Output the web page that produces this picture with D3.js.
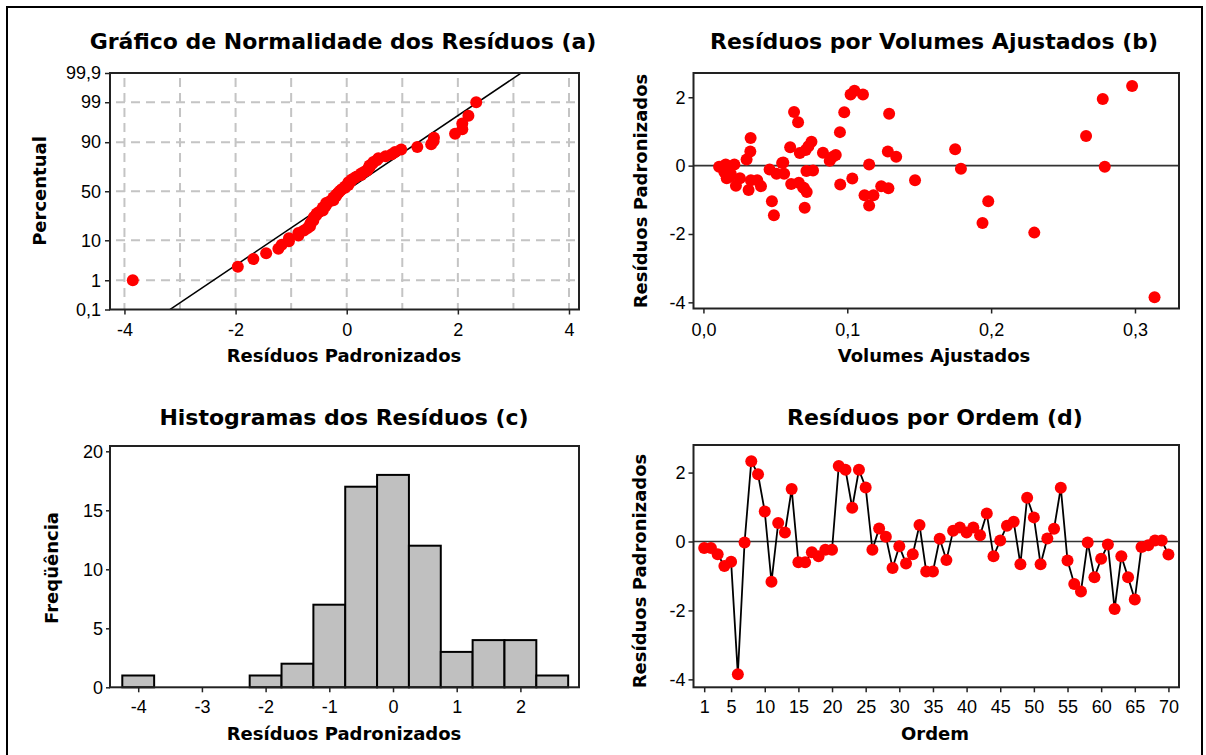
<!DOCTYPE html>
<html>
<head>
<meta charset="utf-8">
<script src="https://cdn.jsdelivr.net/npm/d3@7"></script>
<style>
  body { margin: 0; background: #fff; }
</style>
</head>
<body>
<svg id="chart" width="1206" height="755"></svg>
<script>
// standardized residuals, in observation order (panel d)
var residuals = [-0.19, -0.19, -0.37, -0.71, -0.59, -3.85, -0.03, 2.33, 1.95, 0.87,
  -1.17, 0.54, 0.26, 1.52, -0.60, -0.60, -0.31, -0.43, -0.24, -0.24,
  2.19, 2.08, 0.98, 2.08, 1.57, -0.24, 0.38, 0.14, -0.77, -0.14,
  -0.64, -0.37, 0.48, -0.87, -0.87, 0.08, -0.54, 0.31, 0.41, 0.26,
  0.41, 0.18, 0.81, -0.43, 0.03, 0.46, 0.57, -0.66, 1.27, 0.70,
  -0.66, 0.09, 0.37, 1.56, -0.55, -1.23, -1.45, -0.03, -1.04, -0.50,
  -0.09, -1.96, -0.43, -1.04, -1.68, -0.16, -0.11, 0.03, 0.03, -0.38];

// fitted volumes for the same observations (panel b)
var fitted = [0.0173, 0.0145, 0.0162, 0.0314, 0.0226, 0.3136, 0.0109, 0.298, 0.2776, 0.266,
  0.1152, 0.0603, 0.134, 0.1291, 0.040, 0.1236, 0.0185, 0.033, 0.0508, 0.0561,
  0.105, 0.1023, 0.0949, 0.1109, 0.063, 0.019, 0.0831, 0.0878, 0.0718, 0.0762,
  0.0693, 0.0254, 0.175, 0.112, 0.1182, 0.0547, 0.061, 0.092, 0.0326, 0.090,
  0.1282, 0.030, 0.0328, 0.1471, 0.1152, 0.0711, 0.073, 0.1286, 0.0658, 0.0751,
  0.0700, 0.0555, 0.067, 0.0979, 0.0951, 0.0704, 0.049, 0.279, 0.0476, 0.0663,
  0.179, 0.230, 0.0374, 0.198, 0.194, 0.0716, 0.046, 0.0155, 0.0215, 0.1035];

// histogram (panel c)
var histEdges = [-4.25, -3.75, -3.25, -2.75, -2.25, -1.75, -1.25, -0.75, -0.25, 0.25, 0.75, 1.25, 1.75, 2.25, 2.75];
var histCounts = [1, 0, 0, 0, 1, 2, 7, 17, 18, 12, 3, 4, 4, 1];

// tick labels
var percTicks = [0.1, 1, 10, 50, 90, 99, 99.9];
var percLabels = ["0,1", "1", "10", "50", "90", "99", "99,9"];
var residTicksA = [-4, -2, 0, 2, 4];
var residTicksC = [-4, -3, -2, -1, 0, 1, 2];
var freqTicks = [0, 5, 10, 15, 20];
var volTicks = [0, 0.1, 0.2, 0.3];
var stdTicks = [-4, -2, 0, 2];
var orderTicks = [1, 5, 10, 15, 20, 25, 30, 35, 40, 45, 50, 55, 60, 65, 70];

var titleFont = "DejaVu Sans, Verdana, sans-serif";
var tickFont = "Liberation Sans, Arial, sans-serif";

// inverse standard normal cdf (Acklam)
function probit(p) {
  var a = [-3.969683028665376e+01, 2.209460984245205e+02, -2.759285104469687e+02, 1.383577518672690e+02, -3.066479806614716e+01, 2.506628277459239e+00];
  var b = [-5.447609879822406e+01, 1.615858368580409e+02, -1.556989798598866e+02, 6.680131188771972e+01, -1.328068155288572e+01];
  var c = [-7.784894002430293e-03, -3.223964580411365e-01, -2.400758277161838e+00, -2.549732539343734e+00, 4.374664141464968e+00, 2.938163982698783e+00];
  var d = [7.784695709041462e-03, 3.224671290700398e-01, 2.445134137142996e+00, 3.754408661907416e+00];
  var pl = 0.02425, q, r;
  if (p < pl) {
    q = Math.sqrt(-2 * Math.log(p));
    return (((((c[0]*q+c[1])*q+c[2])*q+c[3])*q+c[4])*q+c[5]) / ((((d[0]*q+d[1])*q+d[2])*q+d[3])*q+1);
  }
  if (p > 1 - pl) {
    q = Math.sqrt(-2 * Math.log(1 - p));
    return -(((((c[0]*q+c[1])*q+c[2])*q+c[3])*q+c[4])*q+c[5]) / ((((d[0]*q+d[1])*q+d[2])*q+d[3])*q+1);
  }
  q = p - 0.5; r = q * q;
  return (((((a[0]*r+a[1])*r+a[2])*r+a[3])*r+a[4])*r+a[5])*q / (((((b[0]*r+b[1])*r+b[2])*r+b[3])*r+b[4])*r+1);
}

var svg = d3.select("#chart");

// outer border
svg.append("rect")
  .attr("x", 7).attr("y", 7)
  .attr("width", 1195).attr("height", 780)
  .attr("fill", "none").attr("stroke", "#000").attr("stroke-width", 2);

function styleAxis(g) {
  g.select(".domain").remove();
  g.selectAll(".tick line").attr("stroke", "#222").attr("stroke-width", 1.5);
  g.selectAll(".tick text")
    .attr("font-family", tickFont)
    .attr("font-size", 18)
    .attr("fill", "#000");
}

function comma(d) { return d.toFixed(1).replace(".", ","); }
function plain(d) { return String(d); }

function title(x, y, txt) {
  svg.append("text").attr("x", x).attr("y", y)
    .attr("text-anchor", "middle")
    .attr("font-family", titleFont).attr("font-weight", "bold").attr("font-size", 22)
    .text(txt);
}
function xlabel(x, y, txt) {
  svg.append("text").attr("x", x).attr("y", y)
    .attr("text-anchor", "middle")
    .attr("font-family", titleFont).attr("font-weight", "bold").attr("font-size", 18)
    .text(txt);
}
function ylabel(x, y, txt) {
  svg.append("text")
    .attr("transform", "translate(" + x + "," + y + ") rotate(-90)")
    .attr("text-anchor", "middle")
    .attr("font-family", titleFont).attr("font-weight", "bold").attr("font-size", 18)
    .text(txt);
}
function frame(g, w, h) {
  g.append("rect").attr("width", w).attr("height", h)
    .attr("fill", "none").attr("stroke", "#222").attr("stroke-width", 2);
}

/* ---------- (a) normal probability plot ---------- */
var A = {x: 110, y: 73, w: 469, h: 236.5};
var gA = svg.append("g").attr("transform", "translate(" + A.x + "," + A.y + ")");
var xA = d3.scaleLinear().domain([-4.26, 4.18]).range([0, A.w]);
var yA = d3.scaleLinear().domain([probit(0.001), probit(0.999)]).range([A.h, 0]);

gA.append("clipPath").attr("id", "clipA")
  .append("rect").attr("width", A.w).attr("height", A.h);

// dashed grid
gA.selectAll(".vgrid")
  .data(d3.range(-4, 5))
  .enter().append("line")
  .attr("x1", function(d) { return xA(d); }).attr("x2", function(d) { return xA(d); })
  .attr("y1", 5).attr("y2", A.h)
  .attr("stroke", "#c4c4c4").attr("stroke-width", 2).attr("stroke-dasharray", "9,6");
gA.selectAll(".hgrid")
  .data(percTicks.slice(1, -1))
  .enter().append("line")
  .attr("x1", 6).attr("x2", A.w)
  .attr("y1", function(d) { return yA(probit(d / 100)); })
  .attr("y2", function(d) { return yA(probit(d / 100)); })
  .attr("stroke", "#c4c4c4").attr("stroke-width", 2).attr("stroke-dasharray", "9,6");

// fitted normal line
var mu = d3.mean(residuals), sd = d3.deviation(residuals);
var zEnds = [probit(0.0001), probit(0.9999)];
gA.append("line")
  .attr("clip-path", "url(#clipA)")
  .attr("x1", xA(mu + sd * zEnds[0])).attr("y1", yA(zEnds[0]))
  .attr("x2", xA(mu + sd * zEnds[1])).attr("y2", yA(zEnds[1]))
  .attr("stroke", "#000").attr("stroke-width", 1.5);

var sorted = residuals.slice().sort(d3.ascending);
var n = sorted.length;
gA.selectAll(".pt")
  .data(sorted)
  .enter().append("circle")
  .attr("cx", function(d) { return xA(d); })
  .attr("cy", function(d, i) { return yA(probit((i + 1 - 0.3) / (n + 0.4))); })
  .attr("r", 6)
  .attr("fill", "#ff0000");

gA.append("g").call(d3.axisLeft(yA)
    .tickValues(percTicks.map(function(p) { return probit(p / 100); }))
    .tickFormat(function(d, i) { return percLabels[i]; })
    .tickSize(5).tickPadding(4))
  .call(styleAxis);
gA.append("g").attr("transform", "translate(0," + A.h + ")")
  .call(d3.axisBottom(xA).tickValues(residTicksA).tickFormat(plain).tickSize(5).tickPadding(9))
  .call(styleAxis);
frame(gA, A.w, A.h);

title(343, 49, "Gráfico de Normalidade dos Resíduos (a)");
xlabel(344, 362, "Resíduos Padronizados");
ylabel(46, 191, "Percentual");

/* ---------- (b) residuals vs fitted ---------- */
var B = {x: 693.5, y: 73, w: 485.5, h: 235.5};
var gB = svg.append("g").attr("transform", "translate(" + B.x + "," + B.y + ")");
var xB = d3.scaleLinear().domain([-0.0069, 0.3306]).range([0, B.w]);
var yB = d3.scaleLinear().domain([-4.18, 2.71]).range([B.h, 0]);

gB.append("line")
  .attr("x1", 0).attr("x2", B.w).attr("y1", yB(0)).attr("y2", yB(0))
  .attr("stroke", "#333").attr("stroke-width", 1.6);

gB.selectAll(".pt")
  .data(residuals)
  .enter().append("circle")
  .attr("cx", function(d, i) { return xB(fitted[i]); })
  .attr("cy", function(d) { return yB(d); })
  .attr("r", 6)
  .attr("fill", "#ff0000");

gB.append("g").call(d3.axisLeft(yB).tickValues(stdTicks).tickFormat(plain).tickSize(5).tickPadding(3))
  .call(styleAxis);
gB.append("g").attr("transform", "translate(0," + B.h + ")")
  .call(d3.axisBottom(xB).tickValues(volTicks).tickFormat(comma).tickSize(5).tickPadding(10))
  .call(styleAxis);
frame(gB, B.w, B.h);

title(934, 49, "Resíduos por Volumes Ajustados (b)");
xlabel(934, 362, "Volumes Ajustados");
ylabel(647, 191, "Resíduos Padronizados");

/* ---------- (c) histogram ---------- */
var C = {x: 110, y: 446, w: 469, h: 241.3};
var gC = svg.append("g").attr("transform", "translate(" + C.x + "," + C.y + ")");
var xC = d3.scaleLinear().domain([-4.443, 2.92]).range([0, C.w]);
var yC = d3.scaleLinear().domain([0, 20.45]).range([C.h, 0]);

gC.selectAll(".bar")
  .data(histCounts)
  .enter().append("rect")
  .attr("x", function(d, i) { return xC(histEdges[i]); })
  .attr("width", function(d, i) { return xC(histEdges[i + 1]) - xC(histEdges[i]); })
  .attr("y", function(d) { return yC(d); })
  .attr("height", function(d) { return yC(0) - yC(d); })
  .attr("fill", "#c0c0c0")
  .attr("stroke", "#000").attr("stroke-width", 2);

gC.append("g").call(d3.axisLeft(yC).tickValues(freqTicks).tickFormat(plain).tickSize(4).tickPadding(3))
  .call(styleAxis);
gC.append("g").attr("transform", "translate(0," + C.h + ")")
  .call(d3.axisBottom(xC).tickValues(residTicksC).tickFormat(plain).tickSize(5).tickPadding(8))
  .call(styleAxis);
frame(gC, C.w, C.h);

title(344, 425, "Histogramas dos Resíduos (c)");
xlabel(344, 740, "Resíduos Padronizados");
ylabel(58, 568, "Freqüência");

/* ---------- (d) residuals vs order ---------- */
var D = {x: 693.5, y: 445, w: 485.5, h: 242.3};
var gD = svg.append("g").attr("transform", "translate(" + D.x + "," + D.y + ")");
var xD = d3.scaleLinear().domain([-0.59, 71.57]).range([0, D.w]);
var yD = d3.scaleLinear().domain([-4.23, 2.8]).range([D.h, 0]);

gD.append("line")
  .attr("x1", 0).attr("x2", D.w).attr("y1", yD(0)).attr("y2", yD(0))
  .attr("stroke", "#333").attr("stroke-width", 1.6);

gD.append("path")
  .datum(residuals)
  .attr("fill", "none").attr("stroke", "#000").attr("stroke-width", 1.8)
  .attr("d", d3.line()
    .x(function(d, i) { return xD(i + 1); })
    .y(function(d) { return yD(d); }));

gD.selectAll(".pt")
  .data(residuals)
  .enter().append("circle")
  .attr("cx", function(d, i) { return xD(i + 1); })
  .attr("cy", function(d) { return yD(d); })
  .attr("r", 6)
  .attr("fill", "#ff0000");

gD.append("g").call(d3.axisLeft(yD).tickValues(stdTicks).tickFormat(plain).tickSize(5).tickPadding(3))
  .call(styleAxis);
gD.append("g").attr("transform", "translate(0," + D.h + ")")
  .call(d3.axisBottom(xD).tickValues(orderTicks).tickFormat(plain).tickSize(5).tickPadding(8))
  .call(styleAxis);
frame(gD, D.w, D.h);

title(935, 425, "Resíduos por Ordem (d)");
xlabel(935, 740, "Ordem");
ylabel(646, 571, "Resíduos Padronizados");
</script>
</body>
</html>
